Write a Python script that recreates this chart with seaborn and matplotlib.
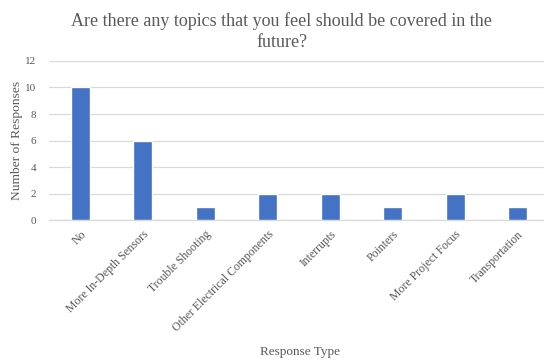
import matplotlib
matplotlib.use("Agg")
import matplotlib.pyplot as plt
import seaborn as sns
import pandas as pd

categories = ["No", "More In-Depth Sensors", "Trouble Shooting",
              "Other Electrical Components", "Interrupts", "Pointers",
              "More Project Focus", "Transportation"]
responses = [10, 6, 1, 2, 2, 1, 2, 1]
y_ticks = [0, 2, 4, 6, 8, 10, 12]

sns.set_theme(style="white")
plt.rcParams["font.family"] = ["Liberation Serif", "DejaVu Serif"]

text_color = "#595959"
grid_color = "#d9d9d9"
bar_color = "#4472c4"

df = pd.DataFrame({"Response Type": categories, "Number of Responses": responses})

fig = plt.figure(figsize=(5.44, 3.62), dpi=100)
ax = fig.add_axes([0.090, 0.392, 0.919, 0.4396])

sns.barplot(data=df, x="Response Type", y="Number of Responses",
            color=bar_color, width=0.30, saturation=1, ax=ax, zorder=3)

ax.set_ylim(0, 12)
ax.set_yticks(y_ticks)
ax.set_xlim(-0.5, len(categories) - 0.5)
ax.yaxis.grid(True, color=grid_color, linewidth=0.9, zorder=0)
ax.xaxis.grid(False)
for side in ["top", "right", "left"]:
    ax.spines[side].set_visible(False)
ax.spines["bottom"].set_color(grid_color)
ax.spines["bottom"].set_linewidth(0.9)
ax.tick_params(axis="both", length=0, colors=text_color)
ax.tick_params(axis="y", labelsize=8, pad=9)
ax.tick_params(axis="x", labelsize=8.5, pad=6)
ax.set_xticks(range(len(categories)))
ax.set_xticklabels(categories, rotation=45, ha="right", rotation_mode="anchor")

ax.set_xlabel("Response Type", color=text_color, fontsize=9.5, labelpad=0)
ax.xaxis.set_label_coords((300 - 49) / 500, -0.79)
ax.set_ylabel("Number of Responses", color=text_color, fontsize=9.7)
ax.yaxis.set_label_coords(-32 / 500, 0.5)
ax.yaxis.label.set_va("center")

fig.text(0.518, 0.966, "Are there any topics that you feel should be covered in the\nfuture?",
         ha="center", va="top", fontsize=13, color=text_color, linespacing=1.3)

fig.savefig("out.png", dpi=100)
